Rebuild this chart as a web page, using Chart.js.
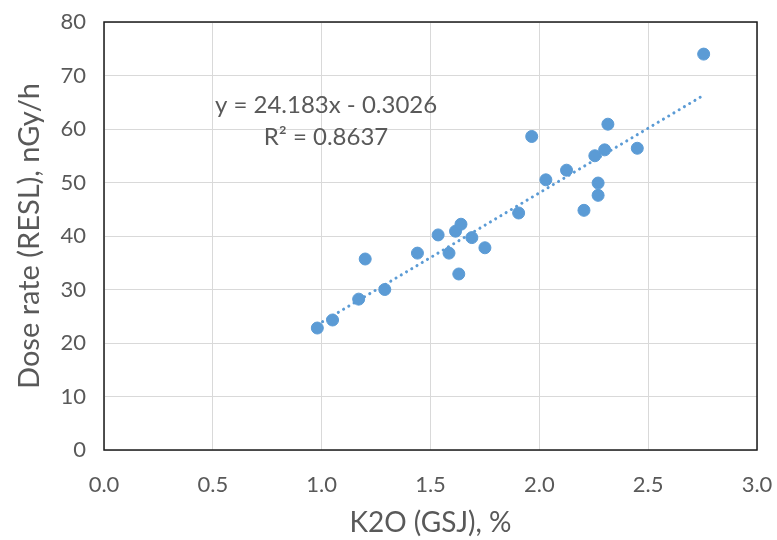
<!DOCTYPE html>
<html>
<head>
<meta charset="utf-8">
<script src="https://cdn.jsdelivr.net/npm/chart.js@4.4.1/dist/chart.umd.min.js"></script>
<style>
  html, body { margin: 0; padding: 0; background: #fff; }
  #wrap { width: 777px; height: 540px; }
</style>
</head>
<body>
<div id="wrap"><canvas id="doseChart" width="777" height="540"></canvas></div>
<script>
// K2O vs dose rate
const k2o = [0.98, 1.05, 1.17, 1.20, 1.29, 1.44, 1.535, 1.585, 1.615, 1.64, 1.63, 1.69, 1.75,
             1.905, 1.965, 2.03, 2.125, 2.205, 2.255, 2.27, 2.27, 2.30, 2.315, 2.45, 2.755];
const doseRate = [22.8, 24.3, 28.2, 35.7, 30.0, 36.8, 40.2, 36.8, 40.9, 42.2, 32.9, 39.7, 37.8,
                  44.3, 58.6, 50.5, 52.3, 44.8, 55.0, 49.9, 47.6, 56.1, 60.9, 56.4, 74.0];
const trendSlope = [24.183];
const trendIntercept = [-0.3026];
const xTicks = [0, 0.5, 1.0, 1.5, 2.0, 2.5, 3.0];
const yTicks = [0, 10, 20, 30, 40, 50, 60, 70, 80];

const blue = '#5b9bd5';
const grey = '#595959';
const fontFamily = 'Lato, "Noto Sans", sans-serif';

const points = k2o.map((x, i) => ({ x: x, y: doseRate[i] }));
const xMin = Math.min(...k2o);
const xMax = Math.max(...k2o);
const trend = [xMin, xMax].map(x => ({ x: x, y: trendSlope[0] * x + trendIntercept[0] }));

// plot frame + trendline label
const framePlugin = {
    id: 'frame',
    afterDraw(chart) {
        const { ctx, chartArea, scales } = chart;
        ctx.save();
        ctx.strokeStyle = '#1a1a1a';
        ctx.lineWidth = 1.5;
        ctx.strokeRect(chartArea.left, chartArea.top, chartArea.right - chartArea.left, chartArea.bottom - chartArea.top);

        ctx.fillStyle = grey;
        ctx.font = '24px ' + fontFamily;
        ctx.textAlign = 'center';
        ctx.textBaseline = 'middle';
        const cx = scales.x.getPixelForValue(1.02);
        ctx.fillText('y = ' + trendSlope[0] + 'x - ' + Math.abs(trendIntercept[0]), cx, scales.y.getPixelForValue(64.5));
        ctx.fillText('R² = 0.8637', cx, scales.y.getPixelForValue(58.5));
        ctx.restore();
    }
};

new Chart(document.getElementById('doseChart').getContext('2d'), {
    type: 'scatter',
    data: {
        datasets: [
            {
                type: 'line',
                data: trend,
                borderColor: blue,
                borderWidth: 3,
                borderDash: [0.1, 6],
                borderCapStyle: 'round',
                pointRadius: 0,
                fill: false,
                order: 2
            },
            {
                data: points,
                backgroundColor: blue,
                borderColor: blue,
                pointRadius: 6,
                order: 1
            }
        ]
    },
    options: {
        responsive: false,
        animation: false,
        layout: { padding: { left: 0, top: 22, right: 20, bottom: 0 } },
        plugins: {
            legend: { display: false },
            tooltip: { enabled: false }
        },
        scales: {
            x: {
                type: 'linear',
                min: 0,
                max: 3,
                afterBuildTicks: axis => { axis.ticks = xTicks.map(v => ({ value: v })); },
                afterFit: axis => {
                    axis.height = 90;
                    axis.paddingLeft = 0;
                    axis.paddingRight = 0;
                },
                grid: { color: '#d9d9d9', drawTicks: false },
                border: { display: false },
                ticks: {
                    color: grey,
                    padding: 22,
                    font: { family: fontFamily, size: 22 },
                    callback: v => v.toFixed(1)
                },
                title: {
                    display: true,
                    text: 'K2O (GSJ), %',
                    color: grey,
                    font: { family: fontFamily, size: 28 },
                    padding: { top: 0, bottom: 0 }
                }
            },
            y: {
                min: 0,
                max: 80,
                afterBuildTicks: axis => { axis.ticks = yTicks.map(v => ({ value: v })); },
                afterFit: axis => {
                    axis.width = 104;
                    axis.paddingTop = 0;
                    axis.paddingBottom = 0;
                },
                grid: { color: '#d9d9d9', drawTicks: false },
                border: { display: false },
                ticks: {
                    color: grey,
                    padding: 18,
                    font: { family: fontFamily, size: 22 }
                },
                title: {
                    display: true,
                    text: 'Dose rate (RESL), nGy/h',
                    color: grey,
                    font: { family: fontFamily, size: 29 },
                    padding: { top: 12, bottom: 0 }
                }
            }
        }
    },
    plugins: [framePlugin]
});
</script>
</body>
</html>
